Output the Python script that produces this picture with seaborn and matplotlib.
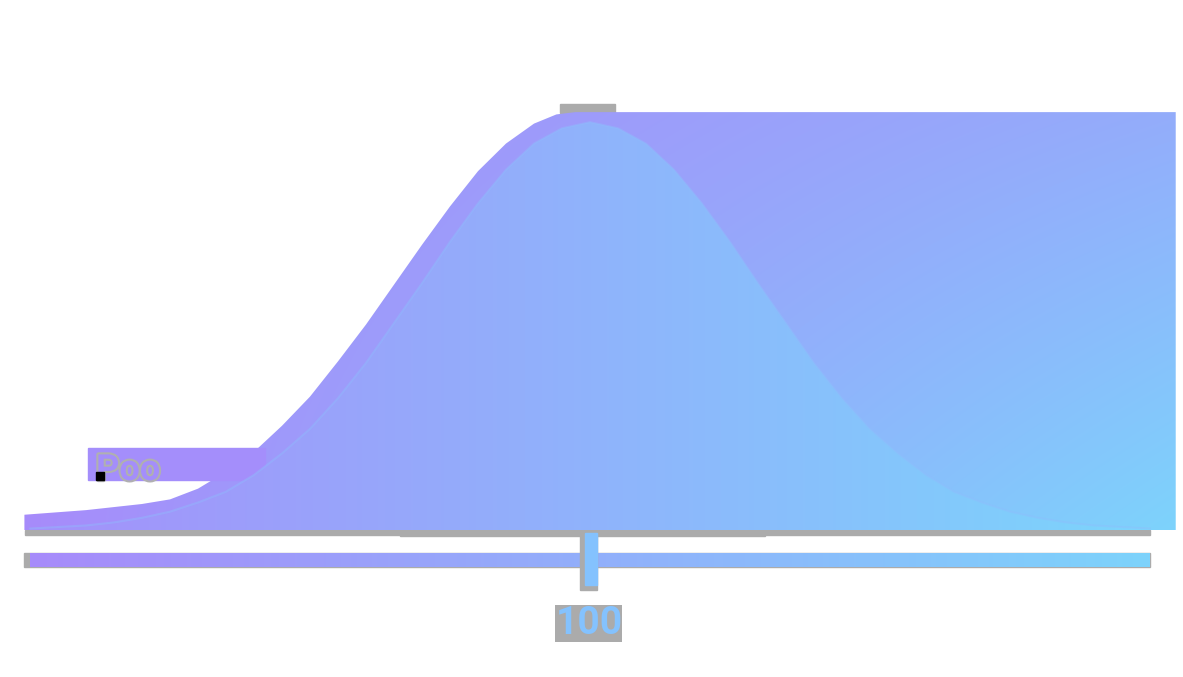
import numpy as np
import matplotlib.pyplot as plt
import matplotlib.patheffects as pe
from matplotlib.patches import Rectangle, PathPatch
import seaborn as sns

# normal curve (mean 100, ~sd 15)
iq = [50, 52.5, 55, 57.5, 60, 62.5, 65, 67.5, 70, 72.5, 75, 77.5, 80, 82.5, 85, 87.5,
      90, 92.5, 95, 97.5, 100, 102.5, 105, 107.5, 110, 112.5, 115, 117.5, 120, 122.5,
      125, 127.5, 130, 132.5, 135, 137.5, 140, 142.5, 145, 147.5, 150]
density = [0.0001, 0.0002, 0.0003, 0.0005, 0.0008, 0.0012, 0.0018, 0.0025, 0.0036, 0.0050,
           0.0066, 0.0086, 0.0109, 0.0135, 0.0161, 0.0188, 0.0213, 0.0235, 0.0252, 0.0262,
           0.0266,
           0.0262, 0.0252, 0.0235, 0.0213, 0.0188, 0.0161, 0.0135, 0.0109, 0.0086, 0.0066,
           0.0050, 0.0036, 0.0025, 0.0018, 0.0012, 0.0008, 0.0005, 0.0003, 0.0002, 0.0001]

# the wider "shadow" shape behind the curve
outer_x = [49.5, 55, 60, 62.5, 65, 67.5, 70, 72.5, 75, 77.5, 80, 82.5, 85, 87.5, 90,
           92.5, 95, 97, 98.7, 152.3]
outer_y = [0.0010, 0.0013, 0.0017, 0.0020, 0.0027, 0.0038, 0.0051, 0.0068, 0.0087,
           0.0110, 0.0134, 0.0160, 0.0186, 0.0211, 0.0234, 0.0252, 0.0265, 0.0271,
           0.02725, 0.02725]

tick_values = [100]
tick_labels = ["100"]
side_label = "Poo"

c0 = np.array([167, 139, 250]) / 255  # violet
c1 = np.array([125, 211, 252]) / 255  # sky blue

sns.set_style("white")
plt.rcParams["font.family"] = ["Roboto", "DejaVu Sans"]
fig = plt.figure(figsize=(11.83, 6.77), dpi=100)
ax = fig.add_axes([0, 0, 1, 1])
ax.set_xlim(47.32, 152.95)
ax.set_ylim(-0.00958, 0.03456)
ax.axis("off")

X0, X1 = 49.5, 152.3
Y0, Y1 = 0.0, 0.0280


def gradient(kind, nx=500, ny=250):
    xf = np.linspace(0, 1, nx)[None, :]
    yb = np.linspace(0, 1, ny)[:, None]  # 0 top, 1 bottom
    if kind == "outer":
        t = xf * (0.45 + 0.55 * yb)
    elif kind == "inner":
        t = np.clip(0.08 + 0.95 * xf, 0, 1) * np.ones_like(yb)
    else:
        t = xf * np.ones_like(yb)
    return c0 + (c1 - c0) * t[..., None]


def clipped_image(img, extent, path, z):
    patch = PathPatch(path, transform=ax.transData, fc="none", ec="none")
    ax.add_patch(patch)
    im = ax.imshow(img, extent=extent, origin="upper", aspect="auto",
                   interpolation="bilinear", zorder=z)
    im.set_clip_path(patch)
    return im


# grey shadows
ax.add_patch(Rectangle((49.55, -0.00035), 100.45, 0.00035, color="#ababab", zorder=1))
ax.add_patch(Rectangle((83.0, -0.0004), 32.6, 0.0004, color="#ababab", zorder=1))
ax.add_patch(Rectangle((97.3, 0.0272), 4.9, 0.0006, color="#ababab", zorder=1))

# outer shape
poly_o = ax.fill_between(outer_x, 0, outer_y, color="none", lw=0)
clipped_image(gradient("outer"), [X0, X1, Y0, Y1], poly_o.get_paths()[0], 2)

# purple band at the left
ax.add_patch(Rectangle((55.2, 0.00326), 15.8, 0.00209, color="#a48efb", zorder=2.5))
ax.text(55.9, 0.00326, side_label, fontsize=26, fontweight="bold", color="#a48efb",
        va="baseline", ha="left", zorder=2.6,
        path_effects=[pe.withStroke(linewidth=3, foreground="#b0b0b0")])
ax.add_patch(Rectangle((55.9, 0.00326), 0.7, 0.00052, color="black", zorder=2.7))

# inner bell curve
poly_i = ax.fill_between(iq, 0, density, color="none", lw=0)
clipped_image(gradient("inner"), [iq[0], iq[-1], Y0, 0.0266], poly_i.get_paths()[0], 3)
sns.lineplot(x=iq, y=density, ax=ax, color="#8fbdfd", lw=1.5, alpha=0.4, zorder=3.5)

# axis bar
ax.add_patch(Rectangle((49.5, -0.00241), 100.5, 0.00091, color="#ababab", zorder=3))
ax.imshow(gradient("bar", 400, 2), extent=[50.0, 150.0, -0.00241, -0.0015],
          origin="upper", aspect="auto", zorder=4)

# tick + label
for v, lab in zip(tick_values, tick_labels):
    ax.add_patch(Rectangle((v - 0.9, -0.0039), 1.5, 0.0037, color="#ababab", zorder=5))
    ax.add_patch(Rectangle((v - 0.45, -0.0036), 1.05, 0.0034, color="#84c2fe", zorder=6))
    ax.text(v - 0.1, -0.00606, lab, fontsize=28, fontweight="bold", color="#84c2fe",
            ha="center", va="center", zorder=6,
            bbox=dict(facecolor="#ababab", edgecolor="none", pad=0))

fig.savefig("out.png", dpi=100)
